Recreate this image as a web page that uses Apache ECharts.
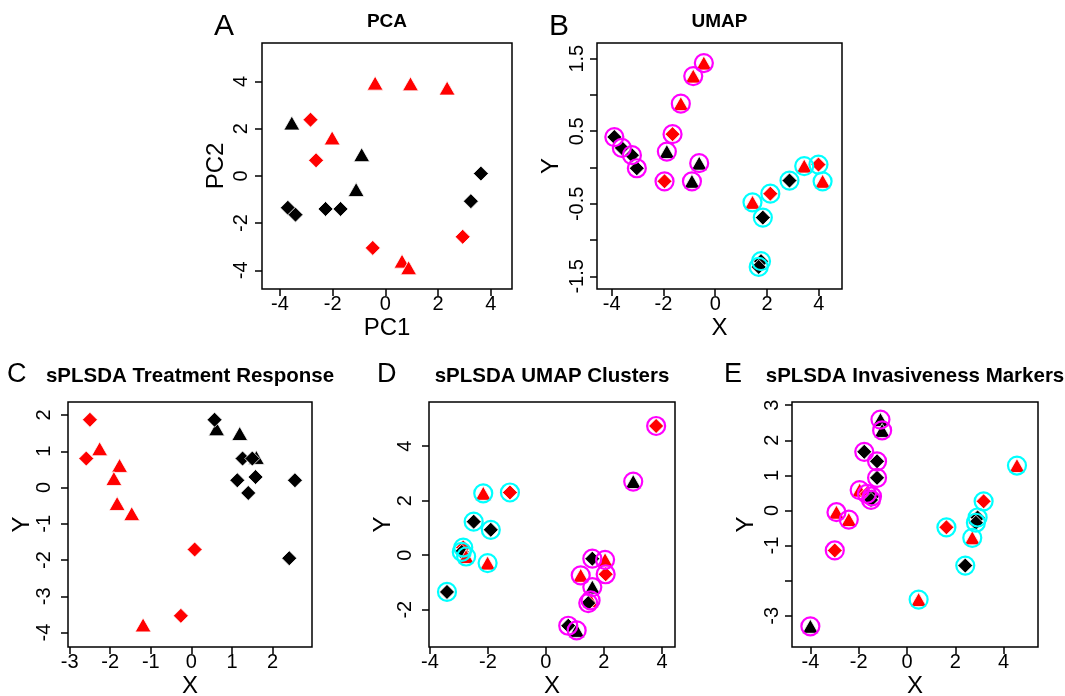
<!DOCTYPE html>
<html><head><meta charset="utf-8">
<script src="https://cdn.jsdelivr.net/npm/echarts@6/dist/echarts.min.js"></script>
<style>html,body{margin:0;padding:0;background:#fff}#c{width:1065px;height:696px}</style>
</head><body><div id="c"></div>
<script>
// ---- data: [x, y, group (R=red / N=black), shape (T=triangle / D=diamond), cluster] ----
const pcaPoints = [
  [-0.39,3.93,'R','T'],[0.95,3.90,'R','T'],[2.34,3.72,'R','T'],[-2.02,1.61,'R','T'],[0.63,-3.61,'R','T'],[0.88,-3.89,'R','T'],
  [-2.84,2.38,'R','D'],[-2.63,0.66,'R','D'],[-0.48,-3.05,'R','D'],[2.93,-2.58,'R','D'],
  [-3.55,2.24,'N','T'],[-0.90,0.90,'N','T'],[-1.11,-0.58,'N','T'],
  [-3.70,-1.35,'N','D'],[-3.41,-1.64,'N','D'],[-2.27,-1.40,'N','D'],[-1.70,-1.40,'N','D'],[3.62,0.10,'N','D'],[3.24,-1.07,'N','D']
];
const umapPoints = [
  [-0.44,1.44,'R','T',1],[-0.85,1.26,'R','T',1],[-1.33,0.88,'R','T',1],
  [-1.65,0.46,'R','D',1],[-1.96,-0.19,'R','D',1],
  [-1.87,0.22,'N','T',1],[-0.62,0.06,'N','T',1],[-0.90,-0.19,'N','T',1],
  [-3.90,0.42,'N','D',1],[-3.61,0.27,'N','D',1],[-3.22,0.17,'N','D',1],[-3.03,-0.01,'N','D',1],
  [1.44,-0.48,'R','T',2],[3.44,0.02,'R','T',2],[4.15,-0.19,'R','T',2],
  [2.13,-0.36,'R','D',2],[3.99,0.04,'R','D',2],
  [1.84,-0.69,'N','D',2],[2.87,-0.18,'N','D',2],[1.77,-1.29,'N','D',2],[1.68,-1.37,'N','D',2]
];
const responsePoints = [
  [-2.26,1.07,'R','T'],[-1.77,0.61,'R','T'],[-1.91,0.25,'R','T'],[-1.83,-0.44,'R','T'],[-1.47,-0.72,'R','T'],[-1.19,-3.79,'R','T'],
  [-2.50,1.87,'R','D'],[-2.59,0.80,'R','D'],[0.08,-1.71,'R','D'],[-0.26,-3.54,'R','D'],
  [0.62,1.62,'N','T'],[1.19,1.49,'N','T'],[1.60,0.83,'N','T'],
  [0.57,1.87,'N','D'],[1.26,0.80,'N','D'],[1.50,0.80,'N','D'],[1.13,0.20,'N','D'],[1.58,0.29,'N','D'],[1.40,-0.15,'N','D'],[2.55,0.20,'N','D'],[2.41,-1.95,'N','D']
];
const clusterPoints = [
  [3.80,4.74,'R','D',1],[3.01,2.70,'N','T',1],
  [1.60,-0.13,'N','D',1],[2.04,-0.17,'R','T',1],[2.06,-0.70,'R','D',1],[1.20,-0.74,'R','T',1],[1.60,-1.17,'N','T',1],
  [1.54,-1.66,'R','T',1],[1.46,-1.76,'N','D',1],[0.77,-2.59,'N','D',1],[1.06,-2.76,'N','T',1],
  [-2.16,2.27,'R','T',2],[-1.24,2.30,'R','D',2],[-2.49,1.23,'N','D',2],[-1.90,0.93,'N','D',2],[-2.01,-0.29,'R','T',2],
  [-2.85,0.28,'R','D',2],[-2.90,0.12,'N','D',2],[-2.75,-0.05,'R','T',2],[-3.41,-1.35,'N','D',2]
];
const invasivePoints = [
  [-1.10,2.59,'N','T',1],[-1.03,2.28,'N','T',1],[-1.77,1.67,'N','D',1],[-1.24,1.40,'N','D',1],[-1.24,0.93,'N','D',1],
  [-1.96,0.58,'R','T',1],[-1.66,0.47,'R','D',1],[-1.45,0.40,'N','D',1],[-1.49,0.30,'N','D',1],
  [-2.92,-0.05,'R','T',1],[-2.41,-0.26,'R','T',1],[-2.99,-1.14,'R','D',1],[-4.00,-3.30,'N','T',1],
  [4.55,1.28,'R','T',2],[3.17,0.26,'R','D',2],[2.92,-0.20,'N','D',2],[2.85,-0.35,'N','D',2],
  [2.70,-0.78,'R','T',2],[1.63,-0.48,'R','D',2],[2.41,-1.57,'N','D',2],[0.48,-2.54,'R','T',2]
];
// tick values
const ticksEven4 = [-4,-2,0,2,4];
const ticksUmapY = [-1.5,-1,-0.5,0,0.5,1,1.5];
const labelsUmapY = [-1.5,-0.5,0.5,1.5];
const ticksRespX = [-3,-2,-1,0,1,2,3];
const ticksRespY = [-4,-3,-2,-1,0,1,2];
const ticksClusterY = [-2,0,2,4];
const ticksInvY = [-3,-2,-1,0,1,2,3];
const labelsInvY = [-3,-1,0,1,2,3];
const panelTitles = ['PCA','UMAP','sPLSDA Treatment Response','sPLSDA UMAP Clusters','sPLSDA Invasiveness Markers'];
const panelLetters = ['A','B','C','D','E'];

// ---- styling / layout ----
const FONT = '"Liberation Sans", Arial, Helvetica, sans-serif';
const groupColor = {R:'#ff0000', N:'#000000'};
const shapeSymbol = {T:'triangle', D:'diamond'};
const shapeSize = {T:[16,14], D:[15,15]};
const ringColor = {1:'#ff00ff', 2:'#00ffff'};

const panels = [
  {pts:pcaPoints, grid:{left:262,top:43,width:250,height:246}, xr:[-4.68,4.8], yr:[-4.79,5.63], xt:ticksEven4, yt:ticksEven4, yl:ticksEven4, xn:'PC1', yn:'PC2', ylm:11},
  {pts:umapPoints, grid:{left:597,top:43,width:245,height:246}, xr:[-4.57,4.9], yr:[-1.674,1.716], xt:ticksEven4, yt:ticksUmapY, yl:labelsUmapY, xn:'X', yn:'Y', ylm:10},
  {pts:responsePoints, grid:{left:68,top:402,width:244,height:245}, xr:[-3.04,2.97], yr:[-4.4,2.36], xt:ticksRespX, yt:ticksRespY, yl:ticksRespY, xn:'X', yn:'Y', ylm:14},
  {pts:clusterPoints, grid:{left:429,top:402,width:246,height:245}, xr:[-4.03,4.45], yr:[-3.37,5.62], xt:ticksEven4, yt:ticksClusterY, yl:ticksClusterY, xn:'X', yn:'Y', ylm:14},
  {pts:invasivePoints, grid:{left:792,top:402,width:246,height:245}, xr:[-4.76,5.42], yr:[-3.89,3.09], xt:ticksEven4, yt:ticksInvY, yl:labelsInvY, xn:'X', yn:'Y', ylm:10}
];

const grids = [], xAxes = [], yAxes = [], series = [], titles = [];
panels.forEach((p, i) => {
  grids.push(Object.assign({show:true, borderColor:'#000', borderWidth:1.5, backgroundColor:'transparent', containLabel:false, outerBoundsMode:'none'}, p.grid));
  const common = {
    gridIndex:i, type:'value', splitLine:{show:false}, nameLocation:'middle', nameMoveOverlap:false,
    axisLine:{show:false, onZero:false},
    nameTextStyle:{fontFamily:FONT, fontSize:24, color:'#000'}
  };
  xAxes.push(Object.assign({}, common, {
    min:p.xr[0], max:p.xr[1], name:p.xn, nameGap:27, position:'bottom',
    axisTick:{show:true, inside:false, length:7, lineStyle:{color:'#000', width:1.5}, customValues:p.xt},
    axisLabel:{show:true, margin:5, fontFamily:FONT, fontSize:20, color:'#000', customValues:p.xt}
  }));
  yAxes.push(Object.assign({}, common, {
    min:p.yr[0], max:p.yr[1], name:p.yn, nameGap:34, position:'left',
    axisTick:{show:true, inside:false, length:7, lineStyle:{color:'#000', width:1.5}, customValues:p.yt},
    axisLabel:{show:true, rotate:90, margin:p.ylm, fontFamily:FONT, fontSize:20, color:'#000', customValues:p.yl}
  }));
  series.push({
    type:'scatter', xAxisIndex:i, yAxisIndex:i, animation:false, silent:true,
    data:p.pts.map(d => ({
      value:[d[0], d[1]], symbol:shapeSymbol[d[3]], symbolSize:shapeSize[d[3]],
      itemStyle:{color:groupColor[d[2]], borderColor:'#ffffff', borderWidth:0.8, opacity:1}
    }))
  });
  if (p.pts.length && p.pts[0].length > 4) {
    series.push({
      type:'scatter', xAxisIndex:i, yAxisIndex:i, animation:false, silent:true,
      data:p.pts.map(d => ({
        value:[d[0], d[1]], symbol:'circle', symbolSize:18,
        itemStyle:{color:'rgba(0,0,0,0)', borderColor:ringColor[d[4]], borderWidth:2.2, opacity:1}
      }))
    });
  }
  const top = i < 2 ? 12 : 366;
  titles.push({text:panelTitles[i], left:p.grid.left + p.grid.width/2, top:top, textAlign:'center',
    textStyle:{fontFamily:FONT, fontWeight:'bold', fontSize:i < 2 ? 19 : 20.5, color:'#000'}, padding:0});
});
const letterPos = [[214,12,30],[549,12,30],[7,361,27],[377,361,27],[724,361,27]];
letterPos.forEach((lp, i) => {
  titles.push({text:panelLetters[i], left:lp[0], top:lp[1], padding:0,
    textStyle:{fontFamily:FONT, fontWeight:'normal', fontSize:lp[2], color:'#000'}});
});

const chart = echarts.init(document.getElementById('c'), null, {renderer:'canvas'});
chart.setOption({
  animation:false, backgroundColor:'#fff',
  title:titles, grid:grids, xAxis:xAxes, yAxis:yAxes, series:series
});
</script></body></html>
